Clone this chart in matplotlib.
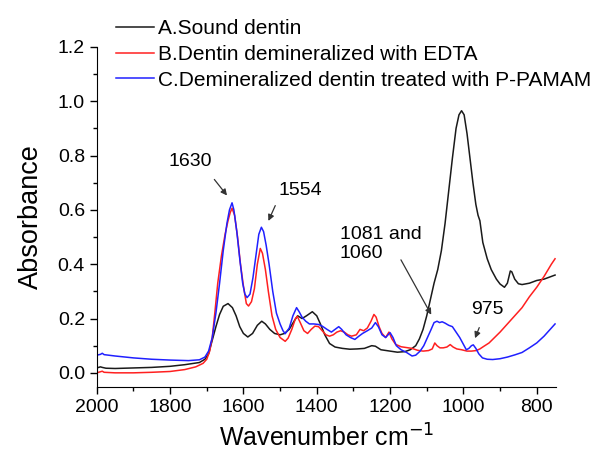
import matplotlib.pyplot as plt
from matplotlib.ticker import MultipleLocator

plt.rcParams['font.family'] = ['Liberation Sans', 'DejaVu Sans']

# A. Sound dentin (black)
wn_a = [2000, 1990, 1985, 1975, 1950, 1900, 1850, 1800, 1760, 1720, 1705, 1695,
        1685, 1675, 1665, 1655, 1642, 1630, 1620, 1610, 1600, 1588, 1575, 1562,
        1550, 1540, 1528, 1515, 1500, 1488, 1475, 1462, 1452, 1440, 1428, 1412,
        1400, 1390, 1378, 1365, 1350, 1330, 1310, 1290, 1270, 1250, 1240, 1225,
        1200, 1180, 1160, 1145, 1130, 1120, 1110, 1100, 1090, 1080, 1070, 1060,
        1050, 1040, 1030, 1020, 1012, 1005, 998, 990, 982, 974, 966, 960, 955,
        947, 935, 924, 910, 900, 888, 880, 872, 868, 860, 850, 840, 820, 800,
        780, 760, 750]
abs_a = [0.018, 0.022, 0.020, 0.017, 0.016, 0.018, 0.020, 0.024, 0.030, 0.038, 0.050, 0.070,
         0.120, 0.170, 0.215, 0.245, 0.255, 0.240, 0.210, 0.170, 0.145, 0.132, 0.145, 0.175,
         0.190, 0.180, 0.160, 0.145, 0.140, 0.145, 0.160, 0.190, 0.210, 0.200, 0.210, 0.225,
         0.210, 0.180, 0.140, 0.108, 0.095, 0.090, 0.087, 0.088, 0.090, 0.100, 0.098, 0.085,
         0.080, 0.076, 0.078, 0.085, 0.100, 0.125, 0.160, 0.210, 0.270, 0.330, 0.380, 0.450,
         0.550, 0.670, 0.790, 0.900, 0.950, 0.965, 0.950, 0.880, 0.790, 0.700, 0.620, 0.580, 0.560,
         0.480, 0.420, 0.380, 0.345, 0.327, 0.315, 0.330, 0.375, 0.372, 0.345, 0.328, 0.325, 0.330, 0.340,
         0.345, 0.355, 0.360]

# B. Dentin demineralized with EDTA (red)
wn_b = [2000, 1990, 1985, 1980, 1950, 1900, 1850, 1800, 1760, 1730, 1710, 1700,
        1692, 1685, 1678, 1670, 1660, 1650, 1642, 1636, 1631, 1624, 1616, 1608,
        1600, 1592, 1586, 1578, 1570, 1562, 1554, 1548, 1540, 1532, 1522, 1512,
        1500, 1486, 1478, 1468, 1458, 1453, 1445, 1435, 1425, 1415, 1405, 1395,
        1385, 1375, 1365, 1355, 1345, 1335, 1325, 1315, 1305, 1292, 1282, 1272,
        1262, 1252, 1244, 1238, 1230, 1222, 1212, 1203, 1195, 1185, 1170, 1155,
        1140, 1125, 1110, 1095, 1085, 1078, 1072, 1064, 1055, 1045, 1036, 1028,
        1018, 1005, 990, 978, 965, 955, 945, 930, 915, 900, 880, 860, 840, 820,
        800, 780, 760, 750]
abs_b = [0.000, 0.004, 0.006, 0.002, 0.000, 0.000, 0.002, 0.005, 0.012, 0.022, 0.035, 0.050,
         0.080, 0.130, 0.220, 0.330, 0.430, 0.510, 0.560, 0.590, 0.606, 0.580, 0.500, 0.400,
         0.320, 0.255, 0.246, 0.262, 0.310, 0.400, 0.458, 0.440, 0.380, 0.300, 0.210, 0.160,
         0.130, 0.116, 0.128, 0.160, 0.200, 0.208, 0.185, 0.155, 0.145, 0.160, 0.172, 0.170,
         0.155, 0.140, 0.135, 0.140, 0.150, 0.155, 0.150, 0.140, 0.135, 0.140, 0.160, 0.155,
         0.165, 0.190, 0.215, 0.205, 0.170, 0.145, 0.130, 0.150, 0.125, 0.105, 0.096, 0.093,
         0.090, 0.083, 0.080, 0.082, 0.088, 0.110, 0.100, 0.092, 0.092, 0.095, 0.104, 0.095,
         0.088, 0.085, 0.080, 0.080, 0.082, 0.088, 0.097, 0.110, 0.130, 0.150, 0.180, 0.210, 0.240, 0.280,
         0.315, 0.355, 0.400, 0.420]

# C. Demineralized dentin treated with P-PAMAM (blue)
wn_c = [2000, 1990, 1985, 1980, 1950, 1900, 1850, 1800, 1750, 1720, 1705, 1695,
        1685, 1675, 1665, 1655, 1645, 1638, 1631, 1626, 1618, 1610, 1602, 1596,
        1590, 1582, 1574, 1566, 1558, 1551, 1545, 1538, 1530, 1520, 1510, 1500,
        1492, 1486, 1475, 1465, 1455, 1448, 1440, 1430, 1420, 1408, 1395, 1385,
        1372, 1360, 1350, 1340, 1332, 1320, 1308, 1296, 1285, 1275, 1262, 1250,
        1240, 1232, 1222, 1212, 1200, 1192, 1183, 1170, 1155, 1140, 1130, 1118,
        1108, 1098, 1088, 1080, 1072, 1065, 1058, 1050, 1040, 1030, 1020, 1010,
        1000, 992, 985, 978, 973, 966, 958, 948, 935, 920, 900, 880, 860, 840,
        820, 800, 780, 760, 750]
abs_c = [0.065, 0.068, 0.072, 0.067, 0.062, 0.055, 0.050, 0.047, 0.045, 0.048, 0.058, 0.080,
         0.130, 0.220, 0.330, 0.450, 0.550, 0.600, 0.626, 0.600, 0.520, 0.420, 0.330, 0.290,
         0.277, 0.290, 0.350, 0.430, 0.510, 0.536, 0.520, 0.470, 0.400, 0.300, 0.220, 0.180,
         0.155, 0.144, 0.165, 0.210, 0.240, 0.225, 0.205, 0.190, 0.180, 0.180, 0.178, 0.172,
         0.160, 0.150, 0.160, 0.170, 0.160, 0.140, 0.130, 0.123, 0.135, 0.145, 0.155, 0.165,
         0.185, 0.170, 0.140, 0.130, 0.148, 0.130, 0.100, 0.085, 0.075, 0.062, 0.065, 0.080,
         0.100, 0.130, 0.160, 0.185, 0.190, 0.185, 0.188, 0.183, 0.175, 0.170, 0.150, 0.130,
         0.105, 0.085, 0.090, 0.100, 0.103, 0.090, 0.070, 0.055, 0.050, 0.049, 0.052, 0.058, 0.066, 0.075,
         0.092, 0.110, 0.135, 0.165, 0.180]

labels = ['A.Sound dentin', 'B.Dentin demineralized with EDTA',
          'C.Demineralized dentin treated with P-PAMAM']

fig = plt.figure(figsize=(5.9, 4.51), dpi=100)
ax = fig.add_axes([0.164, 0.142, 0.778, 0.754])

ax.plot(wn_a, abs_a, color='#1a1a1a', lw=1.1, label=labels[0])
ax.plot(wn_b, abs_b, color='#ff2020', lw=1.1, label=labels[1])
ax.plot(wn_c, abs_c, color='#2020ff', lw=1.1, label=labels[2])

ax.set_xlim(2000, 748)
ax.set_ylim(-0.052, 1.2)
ax.xaxis.set_major_locator(MultipleLocator(200))
ax.xaxis.set_minor_locator(MultipleLocator(100))
ax.yaxis.set_major_locator(MultipleLocator(0.2))
ax.yaxis.set_minor_locator(MultipleLocator(0.1))
ax.yaxis.set_major_formatter(plt.FuncFormatter(lambda v, p: f'{v:.1f}'))
ax.tick_params(which='major', direction='out', length=5, width=1, labelsize=14)
ax.tick_params(which='minor', direction='out', length=3, width=1)
for s in ['top', 'right']:
    ax.spines[s].set_visible(False)

ax.set_xlabel('Wavenumber cm$^{-1}$', fontsize=18, labelpad=6)
ax.set_ylabel('Absorbance', fontsize=19.5, labelpad=10)

arrow = dict(arrowstyle='-|>', color='#333333', lw=0.9, mutation_scale=9)
ax.annotate('', xy=(1640, 0.645), xytext=(1684, 0.72), arrowprops=arrow)
ax.text(1746, 0.778, '1630', fontsize=14, ha='center', va='center')
ax.annotate('', xy=(1535, 0.55), xytext=(1510, 0.625), arrowprops=arrow)
ax.text(1446, 0.67, '1554', fontsize=14, ha='center', va='center')
ax.annotate('', xy=(1084, 0.205), xytext=(1174, 0.425), arrowprops=arrow)
ax.text(1337, 0.474, '1081 and\n1060', fontsize=14, ha='left', va='center',
        linespacing=1.15)
ax.annotate('', xy=(971, 0.118), xytext=(954, 0.176), arrowprops=arrow)
ax.text(934, 0.233, '975', fontsize=14, ha='center', va='center')

fig.legend(loc='upper left', bbox_to_anchor=(0.175, 0.985), frameon=False,
           fontsize=15, handlelength=1.83, handletextpad=0.2, labelspacing=0.32,
           borderaxespad=0.2)

plt.savefig('out.png', dpi=100)
